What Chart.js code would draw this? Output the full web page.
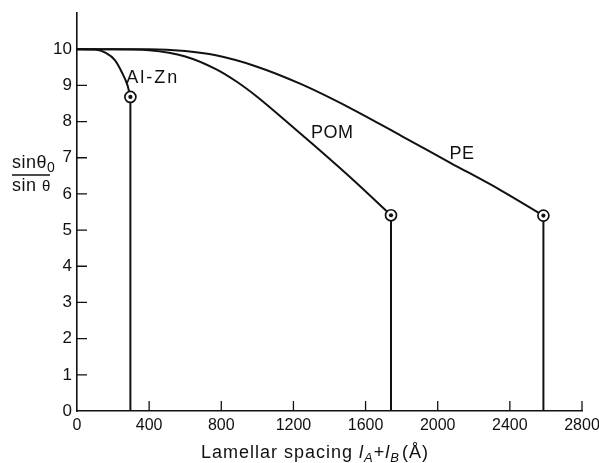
<!DOCTYPE html>
<html>
<head>
<meta charset="utf-8">
<script src="https://cdn.jsdelivr.net/npm/chart.js@4/dist/chart.umd.min.js"></script>
<style>
html, body { margin: 0; padding: 0; background: #fff; }
</style>
</head>
<body>
<canvas id="myChart" width="599" height="463"></canvas>
<script>
'use strict';

// curves (x = lamellar spacing in Angstrom, y = sin t0 / sin t)
var alznX = [0, 100, 160, 210, 250, 280, 296];
var alznY = [10, 9.99, 9.9, 9.7, 9.35, 9.0, 8.68];

var pomX = [0, 200, 400, 600, 770, 880, 1000, 1150, 1290, 1515, 1741];
var pomY = [10, 10, 9.97, 9.8, 9.45, 9.12, 8.68, 8.05, 7.45, 6.46, 5.41];

var peX = [0, 400, 600, 770, 990, 1240, 1520, 1800, 2070, 2350, 2586];
var peY = [10, 10, 9.95, 9.83, 9.53, 9.04, 8.36, 7.6, 6.86, 6.1, 5.4];

// end points (circled) and the drop lines under them
var endX = [296, 1741, 2586];
var endY = [8.68, 5.41, 5.4];

var seriesNames = ['Al-Zn', 'POM', 'PE'];
var nameX = [420, 1415, 2135];
var nameY = [9.2, 7.68, 7.1];

var xTicks = [0, 400, 800, 1200, 1600, 2000, 2400, 2800];
var yTicks = [0, 1, 2, 3, 4, 5, 6, 7, 8, 9, 10];

var ink = '#111';
var fontFam = '"Liberation Sans", Arial, sans-serif';

function pts(xs, ys) {
    var out = [];
    for (var i = 0; i < xs.length; i++) {
        out.push({ x: xs[i], y: ys[i] });
    }
    return out;
}

function curve(xs, ys) {
    return {
        data: pts(xs, ys),
        showLine: true,
        borderColor: ink,
        borderWidth: 2,
        pointRadius: 0,
        cubicInterpolationMode: 'monotone',
        order: 3
    };
}

var datasets = [curve(alznX, alznY), curve(pomX, pomY), curve(peX, peY)];

for (var i = 0; i < endX.length; i++) {
    datasets.push({
        data: [{ x: endX[i], y: endY[i] }, { x: endX[i], y: 0 }],
        showLine: true,
        borderColor: ink,
        borderWidth: 2,
        pointRadius: 0,
        tension: 0,
        order: 3
    });
}

// ring then dot
datasets.push({
    data: pts(endX, endY),
    pointRadius: 5.5,
    pointBackgroundColor: '#fff',
    pointBorderColor: ink,
    pointBorderWidth: 1.7,
    order: 2
});
datasets.push({
    data: pts(endX, endY),
    pointRadius: 2.1,
    pointBackgroundColor: ink,
    pointBorderWidth: 0,
    order: 1
});

var extras = {
    id: 'extras',
    afterDraw: function (chart) {
        var ctx = chart.ctx;
        var xs = chart.scales.x;
        var ys = chart.scales.y;
        ctx.save();
        ctx.strokeStyle = ink;
        ctx.fillStyle = ink;
        ctx.lineWidth = 1.3;

        // inward ticks
        ctx.beginPath();
        xTicks.forEach(function (v) {
            if (v === 0) return;
            var px = xs.getPixelForValue(v);
            ctx.moveTo(px, ys.bottom);
            ctx.lineTo(px, ys.bottom - 10);
        });
        yTicks.forEach(function (v) {
            if (v === 0) return;
            var py = ys.getPixelForValue(v);
            ctx.moveTo(xs.left, py);
            ctx.lineTo(xs.left + 10, py);
        });
        ctx.stroke();

        // series names
        ctx.font = '18px ' + fontFam;
        ctx.textAlign = 'center';
        ctx.textBaseline = 'middle';
        for (var i = 0; i < seriesNames.length; i++) {
            ctx.letterSpacing = i === 0 ? '2px' : '0.5px';
            ctx.fillText(seriesNames[i], xs.getPixelForValue(nameX[i]), ys.getPixelForValue(nameY[i]));
        }

        // x title with italic subscripts
        var parts = [
            ['Lamellar spacing ', '18px ', 0],
            ['l', 'italic 18px ', 0],
            ['A', 'italic 13px ', 4],
            ['+', '18px ', 0],
            ['l', 'italic 18px ', 0],
            ['B', 'italic 13px ', 4],
            ['(\u00c5)', '18px ', 0]
        ];
        ctx.textAlign = 'left';
        ctx.textBaseline = 'alphabetic';
        ctx.letterSpacing = '1px';
        var tx = 201;
        parts.forEach(function (p) {
            ctx.font = p[1] + fontFam;
            ctx.fillText(p[0], tx, 458 + p[2]);
            tx += ctx.measureText(p[0]).width + (p[0] === 'B' ? 2 : 0);
        });

        // y title as a fraction
        ctx.letterSpacing = '0.5px';
        ctx.font = '18px ' + fontFam;
        ctx.fillText('sin\u03b8', 12, 168);
        var w = ctx.measureText('sin\u03b8').width;
        ctx.font = '14px ' + fontFam;
        ctx.fillText('0', 12 + w, 172);
        ctx.beginPath();
        ctx.lineWidth = 1.5;
        ctx.moveTo(12, 175);
        ctx.lineTo(50, 175);
        ctx.stroke();
        ctx.font = '18px ' + fontFam;
        ctx.fillText('sin', 12, 191);
        var w2 = ctx.measureText('sin ').width;
        ctx.font = '15px ' + fontFam;
        ctx.fillText('\u03b8', 12 + w2, 191);

        ctx.restore();
    }
};

var ctx = document.getElementById('myChart').getContext('2d');
var chart = new Chart(ctx, {
    type: 'scatter',
    data: { datasets: datasets },
    options: {
        responsive: false,
        animation: false,
        layout: { padding: { left: 0, top: 13, right: 17, bottom: 0 } },
        plugins: {
            legend: { display: false },
            tooltip: { enabled: false }
        },
        scales: {
            x: {
                type: 'linear',
                min: 0,
                max: 2800,
                afterBuildTicks: function (s) {
                    s.ticks = xTicks.map(function (v) { return { value: v }; });
                },
                ticks: {
                    color: ink,
                    font: { family: fontFam, size: 16 },
                    padding: 5,
                    maxRotation: 0,
                    autoSkip: false,
                    callback: function (v) { return String(v); }
                },
                grid: { drawOnChartArea: false, drawTicks: false },
                border: { color: ink, width: 1.6 },
                afterFit: function (s) {
                    s.height = 52;
                    s.paddingLeft = 0;
                    s.paddingRight = 0;
                }
            },
            y: {
                type: 'linear',
                min: 0,
                max: 11,
                afterBuildTicks: function (s) {
                    s.ticks = yTicks.map(function (v) { return { value: v }; });
                },
                ticks: {
                    color: ink,
                    font: { family: fontFam, size: 17 },
                    padding: 5,
                    callback: function (v) { return String(v); }
                },
                grid: { drawOnChartArea: false, drawTicks: false },
                border: { color: ink, width: 1.6 },
                afterFit: function (s) {
                    s.width = 77;
                    s.paddingTop = 0;
                    s.paddingBottom = 0;
                }
            }
        }
    },
    plugins: [extras]
});
</script>
</body>
</html>
